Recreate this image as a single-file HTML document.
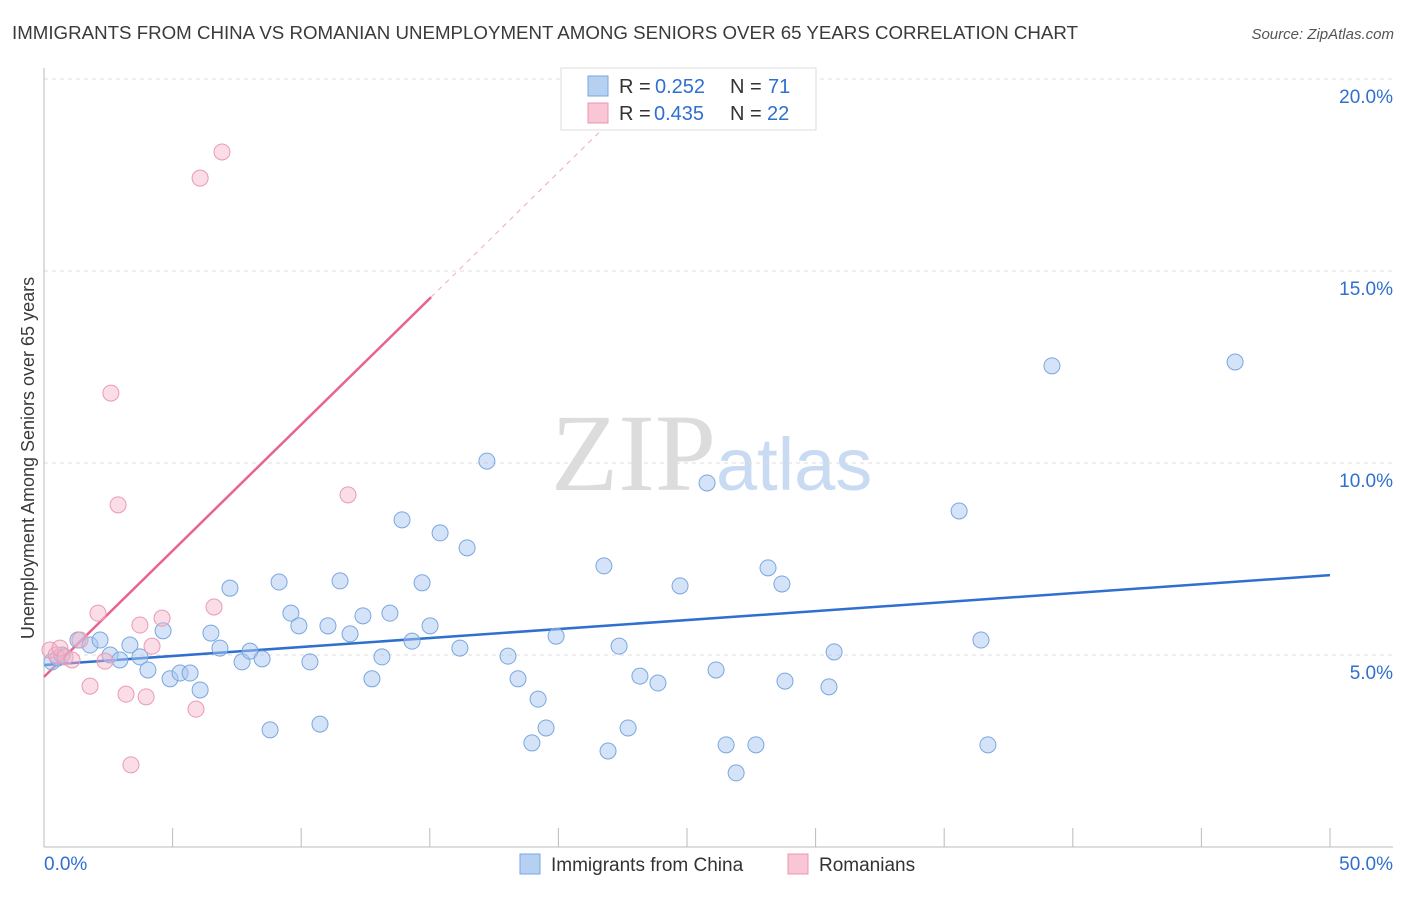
<!DOCTYPE html>
<html><head><meta charset="utf-8"><style>
body{margin:0;background:#fff;font-family:"Liberation Sans",sans-serif;}
svg text{font-family:"Liberation Sans",sans-serif;}
</style></head><body>
<svg id="chart" width="1406" height="892" viewBox="0 0 1406 892">
<text x="12" y="39" font-size="18" fill="#3a3a3a" textLength="1066" lengthAdjust="spacingAndGlyphs">IMMIGRANTS FROM CHINA VS ROMANIAN UNEMPLOYMENT AMONG SENIORS OVER 65 YEARS CORRELATION CHART</text>
<text x="1394" y="39" font-size="15" fill="#555" text-anchor="end" font-style="italic">Source: ZipAtlas.com</text>
<text x="716" y="490" font-size="110" fill="#dcdcdc" text-anchor="end" style="font-family:'Liberation Serif',serif">ZIP</text>
<text x="716" y="490" font-size="74" fill="#c9dbf2">atlas</text>
<g id="grid"></g><g id="axes"></g><g id="lines"></g><g id="pts"></g>
<text transform="translate(34,458) rotate(-90)" font-size="18" fill="#3a3a3a" text-anchor="middle">Unemployment Among Seniors over 65 years</text>
<g>
<rect x="561" y="68" width="255" height="62" fill="#fff" stroke="#ddd"/>
<rect x="588" y="76" width="20" height="20" fill="#b6d0f2" stroke="#7aa7e0"/>
<text x="619" y="93" font-size="20" fill="#333">R =</text><text x="655" y="93" font-size="20" fill="#2f6fd0">0.252</text>
<text x="730" y="93" font-size="20" fill="#333">N =</text><text x="768" y="93" font-size="20" fill="#2f6fd0">71</text>
<rect x="588" y="103" width="20" height="20" fill="#f8c6d5" stroke="#ec94b1"/>
<text x="619" y="120" font-size="20" fill="#333">R =</text><text x="654" y="120" font-size="20" fill="#2f6fd0">0.435</text>
<text x="730" y="120" font-size="20" fill="#333">N =</text><text x="767" y="120" font-size="20" fill="#2f6fd0">22</text>
</g>
<g>
<rect x="520" y="854" width="20" height="20" fill="#b6d0f2" stroke="#7aa7e0"/>
<text x="551" y="871" font-size="19" fill="#333">Immigrants from China</text>
<rect x="788" y="854" width="20" height="20" fill="#f8c6d5" stroke="#ec94b1"/>
<text x="819" y="871" font-size="19" fill="#333">Romanians</text>
</g>
</svg>
<script>
const blueX=[0.31,0.54,0.70,1.32,1.79,2.18,2.57,2.95,3.34,3.73,4.04,4.63,4.90,5.29,5.68,6.07,6.49,6.84,7.23,7.70,8.01,8.48,8.79,9.14,9.60,9.91,10.34,10.73,11.04,11.51,11.90,12.40,12.75,13.14,13.45,13.92,14.31,14.70,15.01,15.40,16.17,16.45,17.22,18.04,18.43,18.97,19.21,19.52,19.91,21.77,21.93,22.36,22.71,23.17,23.87,24.73,25.78,26.13,26.52,26.91,27.68,28.15,28.69,28.81,30.52,30.72,35.58,36.43,36.70,39.19,46.31];
const blueY=[4.82,4.92,5.0,5.39,5.26,5.39,5.0,4.87,5.26,4.95,4.61,5.63,4.38,4.53,4.53,4.09,5.57,5.18,6.74,4.82,5.10,4.90,3.05,6.90,6.09,5.76,4.82,3.20,5.76,6.93,5.55,6.02,4.38,4.95,6.09,8.52,5.36,6.88,5.76,8.18,5.18,7.79,10.05,4.97,4.38,2.71,3.85,3.10,5.49,7.32,2.50,5.23,3.10,4.45,4.27,6.80,9.48,4.61,2.66,1.93,2.66,7.27,6.85,4.32,4.17,5.08,8.75,5.39,2.66,12.53,12.63];
const pinkX=[0.23,0.47,0.62,0.82,1.09,1.40,1.79,2.10,2.37,2.60,2.88,3.19,3.38,3.73,3.97,4.20,4.59,5.91,6.07,6.61,6.92,11.82];
const pinkY=[5.13,5.0,5.18,4.95,4.87,5.39,4.19,6.09,4.84,11.82,8.91,3.98,2.14,5.78,3.91,5.23,5.96,3.59,17.42,6.25,18.10,9.17];
const yTicks=[5,10,15,20];
const yTickLabels=["5.0%","10.0%","15.0%","20.0%"];
const blueTrend=[4.74,7.08];
const pinkTrend=[4.43,0.657];
const NS="http://www.w3.org/2000/svg";
const sx=v=>44+v*25.72, sy=v=>847-v*38.4;
function mk(p,t,a){const e=document.createElementNS(NS,t);for(const k in a)e.setAttribute(k,a[k]);document.getElementById(p).appendChild(e);return e;}
yTicks.forEach((t,i)=>{
 const l=mk('grid','line',{x1:44,x2:1393,y1:sy(t),y2:sy(t),stroke:'#ddd','stroke-dasharray':'4,4'});
 
 
 const tx=mk('grid','text',{x:1393,y:sy(t)+24,'font-size':19,fill:'#2f6fd0','text-anchor':'end'});
 tx.textContent=yTickLabels[i];
 
 
});
const ax=mk('axes','line',{x1:44,x2:44,y1:68,y2:847,stroke:'#bbb'});


const bx=mk('axes','line',{x1:44,x2:1393,y1:847,y2:847,stroke:'#bbb'});


for(let i=0;i<=10;i++){const t=mk('axes','line',{x1:sx(i*5),x2:sx(i*5),y1:828,y2:847,stroke:'#bbb'});
 
 }
const x0=mk('axes','text',{x:44,y:870,'font-size':19,fill:'#2f6fd0'});x0.textContent='0.0%';


const x1=mk('axes','text',{x:1393,y:870,'font-size':19,fill:'#2f6fd0','text-anchor':'end'});x1.textContent='50.0%';


const bl=mk('lines','line',{x1:sx(0),y1:sy(blueTrend[0]),x2:sx(50),y2:sy(blueTrend[1]),stroke:'#2f6fd0','stroke-width':2.5});


const pe=15.05;
const pl=mk('lines','line',{x1:sx(0),y1:sy(pinkTrend[0]),x2:sx(pe),y2:sy(pinkTrend[0]+pinkTrend[1]*pe),stroke:'#e8648f','stroke-width':2.5});


const ye=(847-130)/38.4;
const xe=(ye-pinkTrend[0])/pinkTrend[1];
const pd=mk('lines','line',{x1:sx(pe),y1:sy(pinkTrend[0]+pinkTrend[1]*pe),x2:sx(xe),y2:sy(ye),stroke:'#f0a8bf','stroke-width':1,'stroke-dasharray':'5,5'});


blueX.forEach((x,i)=>{const c=mk('pts','circle',{cx:sx(x),cy:sy(blueY[i]),r:8,fill:'rgba(170,200,240,0.5)',stroke:'#7aa7e0','stroke-width':1});
 
 });
pinkX.forEach((x,i)=>{const c=mk('pts','circle',{cx:sx(x),cy:sy(pinkY[i]),r:8,fill:'rgba(245,180,200,0.45)',stroke:'#eb9ab4','stroke-width':1});
 
 });
</script>
</body></html>
